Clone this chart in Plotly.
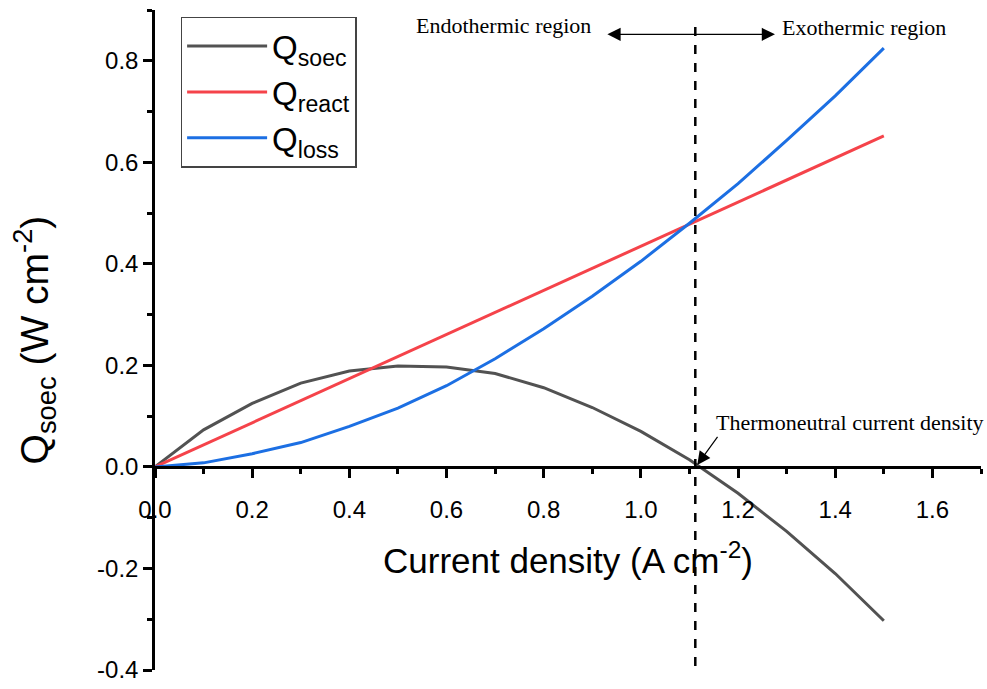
import plotly.graph_objects as go

current = [0.0, 0.1, 0.2, 0.3, 0.4, 0.5, 0.6, 0.7, 0.8, 0.9, 1.0, 1.1, 1.2, 1.3, 1.4, 1.5]
q_soec = [0.0, 0.073, 0.125, 0.165, 0.189, 0.199, 0.197, 0.184, 0.156, 0.117, 0.070, 0.014, -0.052, -0.127, -0.210, -0.303]
q_react = [0.0, 0.0435, 0.087, 0.130, 0.174, 0.217, 0.261, 0.304, 0.348, 0.391, 0.435, 0.478, 0.522, 0.565, 0.609, 0.652]
q_loss = [0.0, 0.008, 0.026, 0.048, 0.080, 0.116, 0.160, 0.213, 0.272, 0.336, 0.405, 0.480, 0.558, 0.643, 0.731, 0.825]

series_names = ["Q<sub>soec</sub>", "Q<sub>react</sub>", "Q<sub>loss</sub>"]
series_colors = ["#525252", "#F5434A", "#1C6FE3"]

x_thermo = 1.112
x_range = [0, 1.7]
y_range = [-0.4, 0.9]
y_major = [-0.4, -0.2, 0.0, 0.2, 0.4, 0.6, 0.8]
y_labels = ["-0.4", "-0.2", "0.0", "0.2", "0.4", "0.6", "0.8"]
x_major = [0.0, 0.2, 0.4, 0.6, 0.8, 1.0, 1.2, 1.4, 1.6]
x_labels = ["0.0", "0.2", "0.4", "0.6", "0.8", "1.0", "1.2", "1.4", "1.6"]

fig = go.Figure()
for name, ys, col in zip(series_names, [q_soec, q_react, q_loss], series_colors):
    fig.add_trace(go.Scatter(x=current, y=ys, mode="lines", name=name,
                             line=dict(color=col, width=3)))

# vertical dashed thermoneutral line
fig.add_trace(go.Scatter(x=[x_thermo, x_thermo], y=[-0.392, 0.88], mode="lines",
                         line=dict(color="black", width=2.5, dash="dash"),
                         showlegend=False, hoverinfo="skip"))

serif = "Liberation Serif, Times New Roman, serif"
sans = "Liberation Sans, Arial, sans-serif"

y0_frac = (0 - y_range[0]) / (y_range[1] - y_range[0])

fig.update_layout(
    width=987, height=689,
    margin=dict(l=155, r=6, t=10, b=15),
    paper_bgcolor="white", plot_bgcolor="white",
    font=dict(family=sans, color="black"),
    showlegend=True,
    legend=dict(x=0.031, y=0.99, xanchor="left", yanchor="top",
                bordercolor="#444", borderwidth=1.5, bgcolor="white",
                font=dict(size=33, family=sans), itemwidth=80,
                tracegroupgap=0),
    xaxis=dict(range=x_range, anchor="free", position=y0_frac,
               showline=True, linecolor="black", linewidth=2.5,
               ticks="outside", ticklen=9, tickwidth=2.5, tickcolor="black",
               tickvals=x_major, ticktext=x_labels, ticklabelstandoff=12,
               tickfont=dict(size=24, family=sans),
               minor=dict(dtick=0.1, ticks="outside", ticklen=5, tickwidth=2.5, tickcolor="black"),
               showgrid=False, zeroline=False),
    yaxis=dict(range=y_range,
               showline=True, linecolor="black", linewidth=2.5,
               ticks="outside", ticklen=9, tickwidth=2.5, tickcolor="black",
               tickvals=y_major, ticktext=y_labels,
               tickfont=dict(size=24, family=sans),
               minor=dict(dtick=0.1, ticks="outside", ticklen=5, tickwidth=2.5, tickcolor="black"),
               showgrid=False, zeroline=False,
               title=dict(text="Q<sub>soec</sub> (W cm<sup>-2</sup>)", font=dict(size=39, family=sans), standoff=37)),
)

# x axis title placed in the middle of the chart, below the axis
fig.add_annotation(x=0.5, xref="paper", y=0.169, yref="paper", yanchor="middle",
                   text="Current density (A cm<sup>-2</sup>)", showarrow=False,
                   font=dict(size=35, family=sans))

# region labels
fig.add_annotation(x=0.718, y=0.87, xref="x", yref="y", text="Endothermic region",
                   showarrow=False, font=dict(size=22, family=serif))
fig.add_annotation(x=1.46, y=0.866, xref="x", yref="y", text="Exothermic region",
                   showarrow=False, font=dict(size=22, family=serif))
# double-headed arrow
fig.add_annotation(x=1.276, y=0.852, ax=0.928, ay=0.852, xref="x", yref="y",
                   axref="x", ayref="y", text="", showarrow=True,
                   arrowhead=2, startarrowhead=2, arrowside="end+start",
                   arrowsize=2.2, startarrowsize=2.2, arrowwidth=1.2, arrowcolor="black")
# thermoneutral annotation
fig.add_annotation(x=x_thermo + 0.004, y=0.004, xref="x", yref="y",
                   ax=1.16, ay=0.062, axref="x", ayref="y",
                   text="", showarrow=True, arrowhead=2, arrowsize=2.2,
                   arrowwidth=1.2, arrowcolor="black")
fig.add_annotation(x=1.43, y=0.088, xref="x", yref="y", text="Thermoneutral current density",
                   showarrow=False, font=dict(size=22, family=serif))

fig.write_html("out.html")
